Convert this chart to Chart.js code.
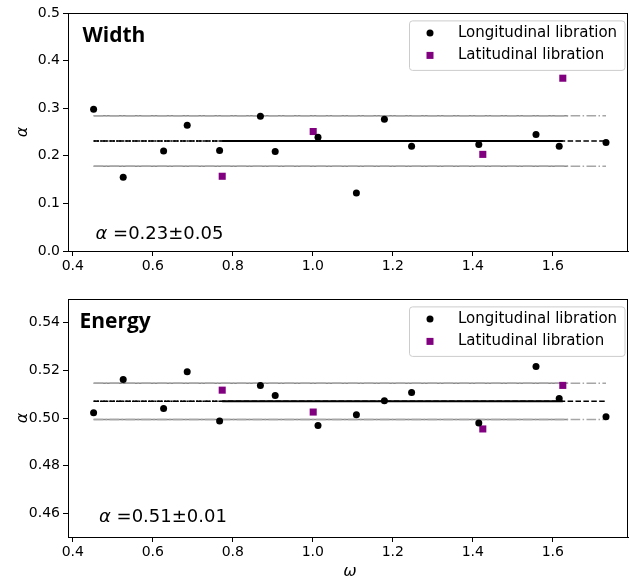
<!DOCTYPE html>
<html>
<head>
<meta charset="utf-8">
<script src="https://cdn.jsdelivr.net/npm/chart.js@4.4.0/dist/chart.umd.min.js"></script>
<style>
  html, body { margin: 0; padding: 0; background: #fff; }
  #wrap { position: relative; width: 629px; height: 582px; }
  canvas { position: absolute; left: 0; }
</style>
</head>
<body>
<div id="wrap">
  <canvas id="cWidth" width="629" height="290" style="top:0px"></canvas>
  <canvas id="cEnergy" width="629" height="292" style="top:290px"></canvas>
</div>
<script>
// ---- data ----
const omegaLong  = [0.452, 0.526, 0.627, 0.686, 0.767, 0.869, 0.906, 1.013, 1.109, 1.179, 1.247, 1.415, 1.558, 1.616, 1.733];
const widthLong  = [0.298, 0.155, 0.210, 0.264, 0.211, 0.283, 0.209, 0.239, 0.122, 0.277, 0.220, 0.224, 0.245, 0.220, 0.228];
const energyLong = [0.5022, 0.5162, 0.5040, 0.5194, 0.4987, 0.5137, 0.5095, 0.4969, 0.5014, 0.5073, 0.5107, 0.4979, 0.5216, 0.5082, 0.5005];

const omegaLat   = [0.7735, 1.001, 1.425, 1.625];
const widthLat   = [0.157, 0.251, 0.203, 0.363];
const energyLat  = [0.5117, 0.5025, 0.4954, 0.5137];

// fitted exponent: mean and spread
const widthFit   = [0.231, 0.053];
const energyFit  = [0.507, 0.0076];
const bandSolidEnd = 1.638;

const xTicks      = [0.4, 0.6, 0.8, 1.0, 1.2, 1.4, 1.6];
const widthTicks  = [0.0, 0.1, 0.2, 0.3, 0.4, 0.5];
const energyTicks = [0.46, 0.48, 0.50, 0.52, 0.54];

const seriesNames = ['Longitudinal libration', 'Latitudinal libration'];

// ---- drawing ----
const FONT = 'DejaVu Sans';
const PURPLE = '#800080';
const GREY = '#8a8a8a';

function seg(x0, x1, y) { return [{x: x0, y: y}, {x: x1, y: y}]; }

function lineSet(data, color, dash, width) {
  return {
    type: 'line', data: data, borderColor: color, borderWidth: width || 1.5,
    borderDash: dash, pointRadius: 0, showLine: true, fill: false, order: 5
  };
}

function pts(xs, ys) { return xs.map((x, i) => ({x: x, y: ys[i]})); }

function roundRect(ctx, x, y, w, h, r) {
  ctx.beginPath();
  ctx.moveTo(x + r, y);
  ctx.lineTo(x + w - r, y);
  ctx.arcTo(x + w, y, x + w, y + r, r);
  ctx.lineTo(x + w, y + h - r);
  ctx.arcTo(x + w, y + h, x + w - r, y + h, r);
  ctx.lineTo(x + r, y + h);
  ctx.arcTo(x, y + h, x, y + h - r, r);
  ctx.lineTo(x, y + r);
  ctx.arcTo(x, y, x + r, y, r);
  ctx.closePath();
}

function panel(id, p) {
  const [mean, err] = p.fit;
  const lo = omegaLong[0], hi = omegaLong[omegaLong.length - 1];
  const latLo = omegaLat[0], latHi = omegaLat[omegaLat.length - 1];

  const datasets = [
    {type: 'scatter', label: seriesNames[0], data: pts(omegaLong, p.yLong),
     backgroundColor: '#000', borderColor: '#000', pointRadius: 3.5, pointStyle: 'circle', borderWidth: 0, order: 1},
    {type: 'scatter', label: seriesNames[1], data: pts(omegaLat, p.yLat),
     backgroundColor: PURPLE, borderColor: PURPLE, pointRadius: 5, pointStyle: 'rect', borderWidth: 0, order: 1},
    // band edges: dash-dot over the full range, solid part underneath
    lineSet(seg(lo, hi, mean + err), '#a6a6a6', [9.6, 2.4, 1.5, 2.4]),
    lineSet(seg(lo, hi, mean - err), '#a6a6a6', [9.6, 2.4, 1.5, 2.4]),
    lineSet(seg(lo, bandSolidEnd, mean + err), GREY, []),
    lineSet(seg(lo, bandSolidEnd, mean - err), GREY, []),
    // mean level
    lineSet(seg(lo, hi, mean), '#000', [5.5, 2.4]),
    lineSet(seg(lo, latLo, mean), '#000', [2, 1.2]),
    lineSet(seg(latLo, latHi, mean), '#000', [], 2)
  ];

  const decor = {
    id: 'decor',
    afterDraw(chart) {
      const ctx = chart.ctx, a = chart.chartArea;
      ctx.save();
      // frame
      ctx.strokeStyle = '#000'; ctx.lineWidth = 1;
      ctx.strokeRect(Math.round(a.left) + 0.5, Math.round(a.top) + 0.5,
                     Math.round(a.right - a.left) - 1, Math.round(a.bottom - a.top));

      // panel heading
      ctx.fillStyle = '#000';
      ctx.textBaseline = 'alphabetic';
      ctx.textAlign = 'left';
      ctx.font = 'bold 21px "Open Sans"';
      ctx.fillText(p.heading, a.left + p.headDx, a.top + 29);

      // fitted value
      const txt = ' =' + mean.toFixed(2) + '\u00B1' + err.toFixed(2);
      ctx.font = 'italic 18px "' + FONT + '"';
      const ax = a.left + p.noteDx, ay = a.bottom - p.noteDy;
      ctx.fillText('\u03B1', ax, ay);
      const aw = ctx.measureText('\u03B1').width;
      ctx.font = '18px "' + FONT + '"';
      ctx.fillText(txt, ax + aw, ay);

      // legend
      const bx = a.right - 219, by = a.top + 7.4, bw = 215.5, bh = 49.5;
      roundRect(ctx, bx + 0.5, by + 0.5, bw, bh, 3);
      ctx.fillStyle = 'rgba(255,255,255,0.8)';
      ctx.fill();
      ctx.strokeStyle = '#cccccc';
      ctx.lineWidth = 1;
      ctx.stroke();
      const mx = bx + 21, r1 = by + 12.6, r2 = by + 35;
      ctx.fillStyle = '#000';
      ctx.beginPath(); ctx.arc(mx, r1, 3.5, 0, Math.PI * 2); ctx.fill();
      ctx.fillStyle = PURPLE;
      ctx.fillRect(mx - 3.5, r2 - 3.5, 7, 7);
      ctx.fillStyle = '#000';
      ctx.font = '15px "' + FONT + '"';
      ctx.textBaseline = 'middle';
      ctx.fillText(seriesNames[0], bx + 49, r1);
      ctx.fillText(seriesNames[1], bx + 49, r2);

      // axis titles
      ctx.font = 'italic 16px "' + FONT + '"';
      ctx.textAlign = 'center';
      ctx.save();
      ctx.translate(23, (a.top + a.bottom) / 2);
      ctx.rotate(-Math.PI / 2);
      ctx.fillText('\u03B1', 0, 0);
      ctx.restore();
      if (p.xTitle) {
        ctx.fillText('\u03C9', (a.left + a.right) / 2 + 2, chart.height - 10);
      }
      ctx.restore();
    }
  };

  const tickFont = {family: FONT, size: 14};
  const H = p.height;

  return new Chart(document.getElementById(id), {
    data: {datasets: datasets},
    options: {
      responsive: false,
      animation: false,
      events: [],
      layout: {autoPadding: false, padding: {top: p.top, right: 1, left: 0, bottom: 0}},
      plugins: {legend: {display: false}, tooltip: {enabled: false}},
      scales: {
        x: {
          type: 'linear', min: 0.388, max: 1.788,
          afterBuildTicks: s => { s.ticks = xTicks.map(v => ({value: v})); },
          afterFit: s => { s.height = H - p.bottom; s.paddingLeft = 0; s.paddingRight = 0; },
          ticks: {callback: v => v.toFixed(1), font: tickFont, color: '#000', padding: 2,
                  maxRotation: 0, autoSkip: false},
          grid: {drawOnChartArea: false, drawTicks: true, tickLength: 5, color: '#000'},
          border: {color: '#000', width: 1}
        },
        y: {
          type: 'linear', min: p.yMin, max: p.yMax,
          afterBuildTicks: s => { s.ticks = p.yTicks.map(v => ({value: v})); },
          afterFit: s => { s.width = 68; s.paddingTop = 0; s.paddingBottom = 0; },
          ticks: {callback: v => v.toFixed(p.dec), font: tickFont, color: '#000', padding: 3,
                  autoSkip: false},
          grid: {drawOnChartArea: false, drawTicks: true, tickLength: 5, color: '#000'},
          border: {color: '#000', width: 1}
        }
      }
    },
    plugins: [decor]
  });
}

panel('cWidth', {
  height: 290, top: 13, bottom: 251,
  yMin: 0, yMax: 0.5, yTicks: widthTicks, dec: 1,
  yLong: widthLong, yLat: widthLat, fit: widthFit,
  heading: 'Width', headDx: 14.5, noteDx: 27.5, noteDy: 12.5, xTitle: false
});

panel('cEnergy', {
  height: 292, top: 9, bottom: 247,
  yMin: 0.45, yMax: 0.55, yTicks: energyTicks, dec: 2,
  yLong: energyLong, yLat: energyLat, fit: energyFit,
  heading: 'Energy', headDx: 11.5, noteDx: 31, noteDy: 14.6, xTitle: true
});
</script>
</body>
</html>
